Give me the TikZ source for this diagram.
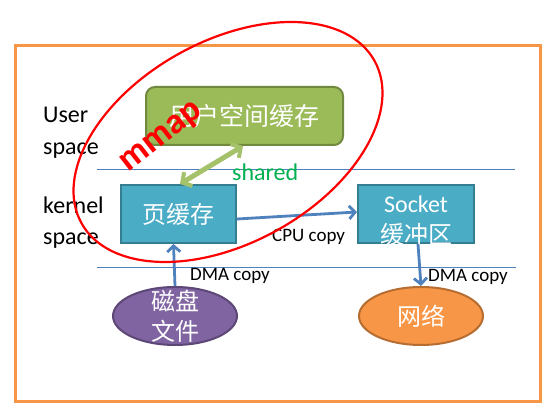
\documentclass[tikz,border=0pt]{standalone}
\usepackage{fontspec}
\setmainfont{Carlito}
\newfontfamily\cjk{Noto Sans CJK SC}
\usetikzlibrary{arrows.meta,shapes.geometric}
\definecolor{frameor}{HTML}{F79646}
\definecolor{gfill}{HTML}{9BBB59}
\definecolor{gdraw}{HTML}{71893F}
\definecolor{bfill}{HTML}{4BACC6}
\definecolor{bdraw}{HTML}{357D91}
\definecolor{pfill}{HTML}{8064A2}
\definecolor{pdraw}{HTML}{5C4776}
\definecolor{odraw}{HTML}{B66D31}
\definecolor{sepblue}{HTML}{4F81BD}
\definecolor{arrblue}{HTML}{4F81BD}
\definecolor{sharedgreen}{HTML}{00B050}
\definecolor{mmapred}{HTML}{FF0000}
\begin{document}
\begin{tikzpicture}[x=1pt,y=-1pt,
  lbl/.style={font=\fontsize{24}{28}\selectfont, anchor=base west, inner sep=0pt, text=black},
  small/.style={font=\fontsize{19}{22}\selectfont, anchor=base west, inner sep=0pt, text=black},
  ubox/.style={draw=gdraw, fill=gfill, line width=2pt, rounded corners=9pt, minimum width=197pt, minimum height=58pt, inner sep=0pt, text=white, font=\cjk\fontsize{25}{30}\selectfont},
  kbox/.style={draw=bdraw, fill=bfill, line width=2pt, minimum width=115pt, minimum height=58pt, inner sep=0pt, text=white},
  oval/.style={ellipse, line width=2pt, minimum width=124pt, minimum height=58pt, inner sep=0pt},
  sepline/.style={draw=sepblue, line width=0.9pt},
  barrow/.style={draw=arrblue, line width=2.8pt, -{Straight Barb[length=6pt,width=13pt,line width=2.8pt]}},
  garrow/.style={draw=gfill!90!white, line width=5pt, {Straight Barb[length=7pt,width=16pt,line width=4pt]}-{Straight Barb[length=7pt,width=16pt,line width=4pt]}},
  intxt/.style={text=white, inner sep=0pt, anchor=base},
]
\useasboundingbox (0,0) rectangle (550,411);
% frame
\draw[frameor, line width=3pt] (15,46) rectangle (540,402);
% separators
\draw[sepline] (97,169) -- (515,169);
\draw[sepline] (97,267) -- (516,267);
% labels
\node[lbl] (u1) at (43,123) {User};
\node[lbl] (u2) at (43,155) {space};
\node[lbl] (k1) at (43,214) {kernel};
\node[lbl] (k2) at (43,245) {space};
% boxes
\node[ubox] (userbuf) at (244.5,116) {用户空间缓存};
\node[kbox, font=\cjk\fontsize{24}{28}\selectfont] (pagecache) at (178.5,214) {页缓存};
\node[kbox, minimum width=116pt,
  label={[intxt, font=\fontsize{24}{28}\selectfont, yshift=9.5pt]center:Socket},
  label={[intxt, font=\cjk\fontsize{24}{28}\selectfont, yshift=-20.5pt]center:缓冲区}] (sockbuf) at (416,214) {};
\node[oval, draw=pdraw, fill=pfill,
  label={[align=center, text=white, font=\cjk\fontsize{24}{30}\selectfont, inner sep=0pt]center:磁盘\\文件}] (disk) at (175,316) {};
\node[oval, draw=odraw, fill=frameor,
  label={[text=white, font=\cjk\fontsize{24}{30}\selectfont, inner sep=0pt]center:网络}] (net) at (421,316) {};
% arrows
\draw[garrow] ([xshift=1.5pt]pagecache.north) -- ([xshift=-1.5pt]userbuf.south);
\draw[barrow] ([yshift=-5pt]pagecache.east) -- ([yshift=2pt]sockbuf.west);
\draw[barrow] (disk.north) -- ([xshift=-1.5pt]disk.north |- pagecache.south);
\draw[barrow] ([xshift=2pt]sockbuf.south) -- (net.north);
% arrow labels
\node[lbl, text=sharedgreen] (shared) at (232,181) {shared};
\node[small] (cpu) at (272,242) {CPU copy};
\node[small] (dma1) at (190,281) {DMA copy};
\node[small] (dma2) at (428,282) {DMA copy};
% mmap annotation
\draw[mmapred, line width=2.2pt, rotate around={29:(228,142)}] (228,142) ellipse [x radius=167.5pt, y radius=101pt];
\node[text=mmapred, font=\bfseries\fontsize{36}{40}\selectfont, rotate=38, inner sep=0pt] (mmap) at (162,138) {mmap};
\end{tikzpicture}
\end{document}
